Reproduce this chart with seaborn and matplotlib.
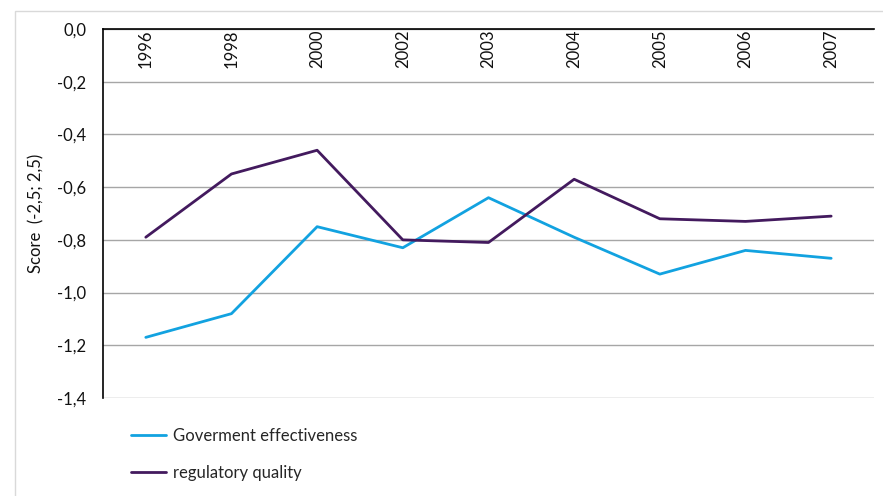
import matplotlib
matplotlib.use("Agg")
import matplotlib.pyplot as plt
from matplotlib.patches import Rectangle
from matplotlib.ticker import FuncFormatter
import seaborn as sns
import pandas as pd

years = ["1996", "1998", "2000", "2002", "2003", "2004", "2005", "2006", "2007"]
gov_effectiveness = [-1.17, -1.08, -0.75, -0.83, -0.64, -0.79, -0.93, -0.84, -0.87]
regulatory_quality = [-0.79, -0.55, -0.46, -0.80, -0.81, -0.57, -0.72, -0.73, -0.71]
series_names = ["Goverment effectiveness", "regulatory quality"]
y_ticks = [0.0, -0.2, -0.4, -0.6, -0.8, -1.0, -1.2, -1.4]

df = pd.DataFrame({
    "year": years * 2,
    "score": gov_effectiveness + regulatory_quality,
    "series": [series_names[0]] * len(years) + [series_names[1]] * len(years),
})

sns.set_theme(style="white")
plt.rcParams["font.family"] = ["Lato", "DejaVu Sans"]
FS = 12

fig = plt.figure(figsize=(8.83, 4.96), dpi=100)
ax = fig.add_axes([0.1166, 0.1976, 0.8732, 0.7439])

palette = {series_names[0]: "#12a2e0", series_names[1]: "#431a5e"}
sns.lineplot(data=df, x="year", y="score", hue="series", palette=palette,
             linewidth=2.0, sort=False, ax=ax, legend=True)

ax.set_xlim(-0.5, len(years) - 0.5)
ax.set_ylim(-1.4, 0.0)
ax.set_yticks(y_ticks)
ax.yaxis.set_major_formatter(FuncFormatter(lambda v, _: f"{v:.1f}".replace(".", ",").replace("-0,0", "0,0")))
ax.grid(axis="y", color="#a6a6a6", linewidth=1.0)
ax.set_axisbelow(True)

# years printed along the top, hanging inside the plot
ax.xaxis.tick_top()
ax.tick_params(axis="x", top=False, bottom=False, labeltop=True, labelbottom=False,
               pad=-6.5, labelsize=FS, colors="#111111", rotation=90)
for lbl in ax.get_xticklabels():
    lbl.set_va("top")
ax.tick_params(axis="y", left=False, labelsize=FS, colors="#111111", pad=6)
ax.set_xlabel("")
ax.set_ylabel("Score  (-2,5; 2,5)", fontsize=FS, color="#111111", labelpad=9)

for side in ("right", "bottom"):
    ax.spines[side].set_visible(False)
for side in ("top", "left"):
    ax.spines[side].set_color("#000000")
    ax.spines[side].set_linewidth(1.2)

ax.get_legend().remove()
handles, labels = ax.get_legend_handles_labels()
fig.legend(handles, labels, loc="upper left", bbox_to_anchor=(0.148, 0.137),
           frameon=False, fontsize=FS, handlelength=2.1, handletextpad=0.45,
           labelspacing=1.25, borderpad=0, borderaxespad=0)

# light frame around the chart area
fig.patches.append(Rectangle((15 / 883, -0.1), 1.2, 1 - 11 / 496 + 0.1,
                             transform=fig.transFigure, fill=False,
                             edgecolor="#d9d9d9", linewidth=1.0))

fig.savefig("out.png", dpi=100)
